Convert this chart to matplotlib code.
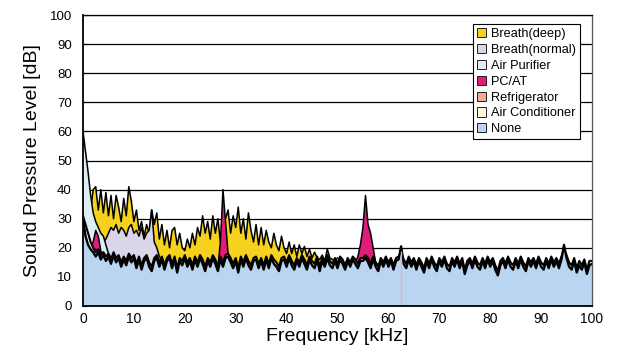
import numpy as np
import matplotlib
matplotlib.use("Agg")
import matplotlib.pyplot as plt
from matplotlib.patches import Patch

plt.rcParams['font.family'] = ['Liberation Sans', 'DejaVu Sans']

# ---------------- data (dB) ----------------
series_names = ["Breath(deep)", "Breath(normal)", "Air Purifier", "PC/AT",
                "Refrigerator", "Air Conditioner", "None"]
series_colors = ["#F6D21E", "#DAD6EA", "#DDEEF7", "#E31C7C",
                 "#F2AC9C", "#FAF6DA", "#B9D5F0"]
series_lw = [1.1, 1.1, 1.1, 1.1, 1.1, 1.5, 1.7]

freq_breath_deep = np.arange(0, 50.01, 0.5)
breath_deep = [
    40, 36, 34, 33, 40, 41, 33, 40, 32, 39,
    31, 38, 30, 38, 34, 29, 37, 31, 41, 36,
    29, 33, 26, 29, 24, 28, 25, 33, 28, 32,
    23, 28, 21, 26, 20, 26, 27, 21, 25, 20,
    19, 23, 20, 25, 21, 27, 24, 31, 25, 29,
    23, 31, 25, 30, 22, 27, 30, 33, 25, 31,
    27, 34, 25, 30, 23, 32, 26, 22, 28, 21,
    27, 21, 26, 22, 20, 25, 21, 19, 24, 20,
    18, 22, 18, 21, 17, 21, 18, 20.5, 17, 19.5,
    16.5, 18.5, 16.5, 16, 17.5, 15.5, 19.5, 16.5, 16, 15.5,
    16.5]

freq_breath_normal = np.arange(0, 20.01, 0.5)
breath_normal = [
    34, 30, 27, 25, 24, 23, 25, 24, 22, 23,
    25, 27, 26, 28, 25, 27, 26, 24, 27, 28,
    25, 26, 24, 27, 23, 25, 26, 33, 22, 20,
    17, 15.5, 14.5, 14, 13.5, 14, 13.5, 14, 13.5, 13,
    13.5]

freq_air_purifier = np.arange(0, 8.01, 0.5)
air_purifier = [60, 53, 46, 38, 32, 29, 27, 25, 24, 21, 18, 16.5, 15.5, 15, 15.5, 14.5, 14]

freq_pc = np.arange(0, 60.01, 0.5)
pc_at = [
    28, 25, 22, 20, 22, 26, 24, 19, 16, 15,
    14, 15, 13.5, 14.5, 13, 14, 13.5, 15, 14, 13,
    14.5, 13.5, 14, 13, 15, 13.5, 14, 13, 14.5, 13.5,
    14, 13, 14.5, 13.5, 13, 14, 15, 13.5, 14, 13,
    14.5, 13.5, 13, 14, 13.5, 15, 14, 13, 14.5, 13.5,
    14, 13, 15, 13.5, 22, 40, 29, 18, 14, 13.5,
    14.5, 13, 14, 13.5, 15, 13.5, 14, 13, 14.5, 13.5,
    13, 14.5, 13.5, 14, 13, 15, 13.5, 14, 13, 14.5,
    13.5, 14, 13, 14.5, 13.5, 13, 14, 15, 13.5, 14,
    13, 14.5, 13.5, 14, 13, 13.5, 14.5, 13, 14, 13.5,
    14, 13, 14.5, 13.5, 13, 14, 13.5, 15, 17, 21,
    27, 38, 28, 25, 20, 15, 14, 13, 14.5, 13.5,
    14]

freq_refrigerator = np.arange(0, 10.01, 0.5)
refrigerator = [27, 24, 21, 19, 18, 19.5, 17, 18, 16.5, 17.5,
                16, 17, 15.5, 16.5, 15, 16, 14.5, 15.5, 14.5, 15, 14]
refrigerator_tone_khz = [62.4]
refrigerator_tone_db = [19.0]

freq_none = np.arange(0, 100.01, 0.5)
air_conditioner = [
    31, 28, 25, 22, 20, 18.5, 19.5, 17.5, 18.5, 17,
    18, 16, 18.5, 16.5, 17.5, 15, 17, 15.5, 18, 16.5,
    17.5, 14.5, 17, 14, 16.5, 17.5, 15, 13.5, 16.5, 17.5,
    15, 17, 14, 16.5, 17.5, 14.5, 17, 13, 16.5, 15.5,
    17.5, 15, 16.5, 14, 17, 15, 17.5, 16, 13.5, 16.5,
    15, 17.5, 16, 13.5, 17, 15, 17.5, 18, 16.5, 14.5,
    16.5, 13, 17, 15, 17.5, 15.5, 14, 16.5, 17, 14.5,
    16.5, 14, 17, 14.5, 17.5, 16, 15, 13.5, 16.5, 17,
    15, 17.5, 15.5, 14, 16.5, 15, 17.5, 16, 14, 17,
    15.5, 14.5, 17, 13.5, 16.5, 15, 17.5, 15.5, 14.5, 16.5,
    14.5, 17, 16, 14, 16.5, 15, 17, 16, 14.5, 16.5,
    16.5, 17.5, 16.5, 14.5, 17, 15, 13.5, 16.5, 15, 17,
    15, 16.5, 14, 16.5, 17, 18.5, 16, 14.5, 17, 15,
    16.5, 14, 16.5, 15, 13, 16.5, 14.5, 17, 15, 13.5,
    16.5, 15, 17, 14.5, 13.5, 16.5, 15, 17, 14.5, 16.5,
    12.5, 15.5, 16.5, 14.5, 17, 15, 14, 16.5, 14.5, 17,
    15, 16.5, 14, 12, 15.5, 16.5, 14.5, 17, 15, 14,
    16.5, 14.5, 17, 15, 13.5, 16.5, 15, 16.5, 14.5, 17,
    15, 14, 16.5, 14.5, 17, 15, 16.5, 14.5, 17, 19.5,
    17.5, 15, 14, 16.5, 13, 15.5, 14, 16, 12.5, 15.5,
    15.5]

none = [
    30, 24, 21, 19.5, 18.5, 17, 18.5, 16, 17.5, 15.5,
    17, 14.5, 17.5, 15, 16.5, 13.5, 16, 14, 17, 15,
    16.5, 13, 16, 12.5, 15.5, 16.5, 13.5, 12, 15.5, 16.5,
    13.5, 16, 12.5, 15.5, 16.5, 13, 16, 11.5, 15.5, 14,
    16.5, 13.5, 15.5, 12.5, 16, 13.5, 16.5, 14.5, 12, 15.5,
    13.5, 16.5, 14.5, 12, 16, 13.5, 16.5, 17, 15, 13,
    15.5, 11.5, 16, 13.5, 16.5, 14, 12.5, 15.5, 16, 13,
    15.5, 12.5, 16, 13, 16.5, 14.5, 13.5, 12, 15.5, 16,
    13.5, 16.5, 14, 12.5, 15.5, 13.5, 16.5, 14.5, 12.5, 16,
    14, 13, 16, 12, 15.5, 13.5, 16.5, 14, 13, 15.5,
    13, 16, 14.5, 12.5, 15.5, 13.5, 16, 14.5, 13, 15.5,
    15.5, 16.5, 15, 13, 16, 13.5, 12, 15.5, 13.5, 16,
    13.5, 15.5, 12.5, 15.5, 16, 20.5, 14.5, 13, 16, 13.5,
    15.5, 12.5, 15.5, 13.5, 11.5, 15.5, 13, 16, 13.5, 12,
    15.5, 13.5, 16, 13, 12, 15.5, 13.5, 16, 13, 15.5,
    11, 14, 15.5, 13, 16, 13.5, 12.5, 15.5, 13, 16,
    13.5, 15.5, 12.5, 10.5, 14, 15.5, 13, 16, 13.5, 12.5,
    15.5, 13, 16, 13.5, 12, 15.5, 13.5, 15.5, 13, 16,
    13.5, 12.5, 15.5, 13, 16, 13.5, 15.5, 13, 16, 21,
    16.5, 13.5, 12.5, 15.5, 11.5, 14, 12.5, 15, 11, 14,
    14.5]

x_ticks = list(range(0, 101, 10))
y_ticks = list(range(0, 101, 10))

# ---------------- figure ----------------
fig = plt.figure(figsize=(6.17, 3.54), dpi=100)
ax = fig.add_axes([83 / 617, 48 / 354, 509 / 617, 291 / 354])

all_series = [
    (freq_breath_deep, breath_deep),
    (freq_breath_normal, breath_normal),
    (freq_air_purifier, air_purifier),
    (freq_pc, pc_at),
    (freq_refrigerator, refrigerator),
    (freq_none, air_conditioner),
    (freq_none, none),
]

for i, ((fx, fy), color, lw) in enumerate(zip(all_series, series_colors, series_lw)):
    z = 2 + i
    ax.fill_between(fx, 0, fy, facecolor=color, edgecolor='none', zorder=z)
    ax.plot(fx, fy, color='black', lw=lw, zorder=z + 0.5)

ax.vlines(refrigerator_tone_khz, 0, refrigerator_tone_db, color=series_colors[4],
          lw=0.9, zorder=20)

ax.set_xlim(0, 100)
ax.set_ylim(0, 100)
ax.set_xticks(x_ticks)
ax.set_yticks(y_ticks)
ax.tick_params(axis='x', direction='in', length=3, width=0.8, labelsize=10, pad=4)
ax.tick_params(axis='y', direction='in', length=3, width=0.8, labelsize=9.5, pad=8)

for y in y_ticks[1:]:
    ax.axhline(y, color='black', lw=0.9, zorder=1)

for s in ['left', 'bottom']:
    ax.spines[s].set_color('black')
    ax.spines[s].set_linewidth(1.3)
ax.spines['top'].set_color('black')
ax.spines['top'].set_linewidth(0.9)
ax.spines['right'].set_color('#555555')
ax.spines['right'].set_linewidth(0.9)
for s in ax.spines.values():
    s.set_zorder(30)

ax.set_xlabel("Frequency [kHz]", fontsize=14, labelpad=2)
ax.set_ylabel("Sound Pressure Level [dB]", fontsize=14, labelpad=6)

handles = [Patch(facecolor=c, edgecolor='black', lw=0.6) for c in series_colors]
leg = ax.legend(handles, series_names, loc='upper right', bbox_to_anchor=(0.976, 0.968),
                fontsize=9.2, frameon=True, fancybox=False, framealpha=1,
                edgecolor='black', handlelength=0.72, handleheight=0.72,
                handletextpad=0.35, labelspacing=0.3, borderpad=0.3, borderaxespad=0)
leg.get_frame().set_linewidth(0.8)
leg.set_zorder(40)

fig.savefig("out.png", dpi=100)
